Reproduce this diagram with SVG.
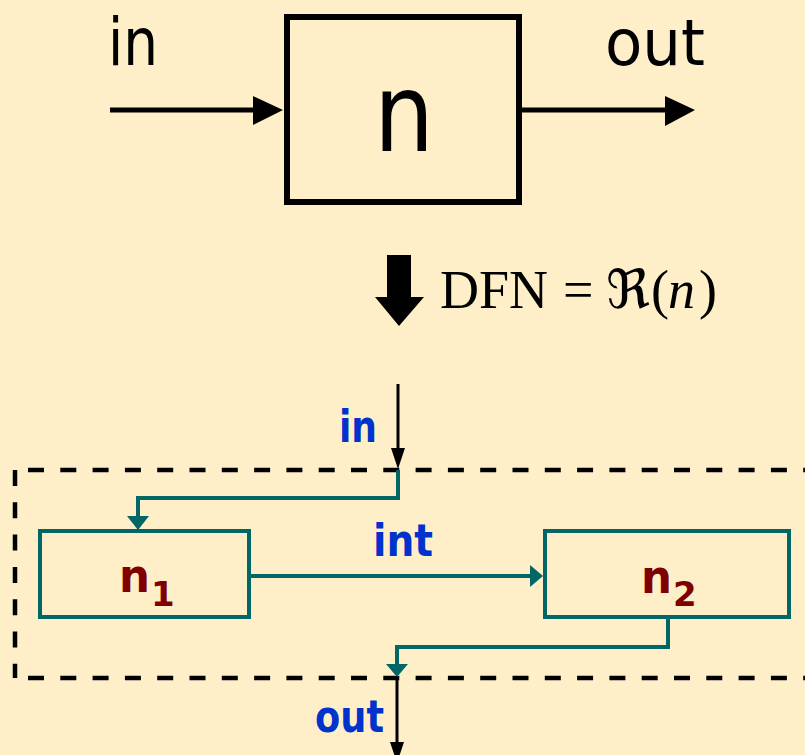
<svg xmlns="http://www.w3.org/2000/svg" width="805" height="755" viewBox="0 0 805 755">
<style>
.big{font-family:"DejaVu Sans","Liberation Sans",sans-serif;fill:#000}
.lbl{font-family:"DejaVu Sans","Liberation Sans",sans-serif;font-weight:bold;fill:#0033CC;font-size:44px}
.nm{font-family:"DejaVu Sans","Liberation Sans",sans-serif;font-weight:bold;fill:#800000}
.teal{fill:none;stroke:#006666;stroke-width:4}
.box{fill:none;stroke:#006666;stroke-width:4}
.dash{stroke:#000;stroke-width:4.5;stroke-dasharray:16 16.3;fill:none}
</style>
<rect width="805" height="755" fill="#FFEFC9"/>
<g id="node-n">
<rect x="287" y="17" width="232" height="185" fill="none" stroke="#000" stroke-width="6"/>
<text class="big" x="374" y="151" font-size="108" textLength="60" lengthAdjust="spacingAndGlyphs">n</text>
</g>
<g id="label-in-top"><text class="big" x="108" y="65" font-size="66" textLength="50" lengthAdjust="spacingAndGlyphs">in</text></g>
<g id="label-out-top"><text class="big" x="605" y="65" font-size="64" textLength="100" lengthAdjust="spacingAndGlyphs">out</text></g>
<g id="transform">
<polygon points="387,255 411,255 411,297 424,297 399,326 375,297 387,297" fill="#000"/>
<text font-family="'Liberation Serif','Times New Roman',serif" font-size="54" y="308" fill="#000"><tspan x="440">DFN</tspan><tspan x="563">=</tspan><tspan x="606" font-family="'DejaVu Serif','DejaVu Sans',serif" font-size="54">ℜ</tspan><tspan x="651">(</tspan><tspan x="668" font-style="italic">n</tspan><tspan x="699">)</tspan></text>
</g>
<g id="boundary">
<path class="dash" d="M28 470 H805"/>
<path class="dash" d="M15 470 V678"/>
<path class="dash" d="M28 678 H805"/>
</g>
<g id="node-n1">
<rect class="box" x="40" y="531" width="209" height="86"/>
<text class="nm" x="119" y="592" font-size="47" textLength="31" lengthAdjust="spacingAndGlyphs">n</text>
<text class="nm" x="151" y="606" font-size="34">1</text>
</g>
<g id="node-n2">
<rect class="box" x="545" y="531" width="244" height="86"/>
<text class="nm" x="641" y="593" font-size="47" textLength="31" lengthAdjust="spacingAndGlyphs">n</text>
<text class="nm" x="673" y="606" font-size="34">2</text>
</g>
<g id="connectors">
<line x1="110" y1="110" x2="256" y2="110" stroke="#000" stroke-width="5"/>
<polygon points="253,96 283,110 253,125" fill="#000"/>
<line x1="522" y1="110" x2="668" y2="110" stroke="#000" stroke-width="5"/>
<polygon points="665,96 695,110 665,126" fill="#000"/>
<line x1="398" y1="384" x2="398" y2="452" stroke="#000" stroke-width="3"/>
<polygon points="391,448 405,448 398,469" fill="#000"/>
<path class="teal" d="M398 470 V498 H138 V519"/>
<polygon points="127,516 149,516 138,530" fill="#006666"/>
<path class="teal" d="M251 576 H532"/>
<polygon points="530,565 530,587 543,576" fill="#006666"/>
<path class="teal" d="M668 619 V647 H397 V666"/>
<polygon points="386,664 408,664 397,677" fill="#006666"/>
<line x1="397" y1="678" x2="397" y2="746" stroke="#000" stroke-width="3"/>
<polygon points="390,742 404,742 397,763" fill="#000"/>
</g>
<g id="labels">
<text class="lbl" x="339" y="442" textLength="38" lengthAdjust="spacingAndGlyphs">in</text>
<text class="lbl" x="373" y="556" textLength="60" lengthAdjust="spacingAndGlyphs">int</text>
<text class="lbl" x="315" y="732" textLength="69" lengthAdjust="spacingAndGlyphs">out</text>
</g>
</svg>
